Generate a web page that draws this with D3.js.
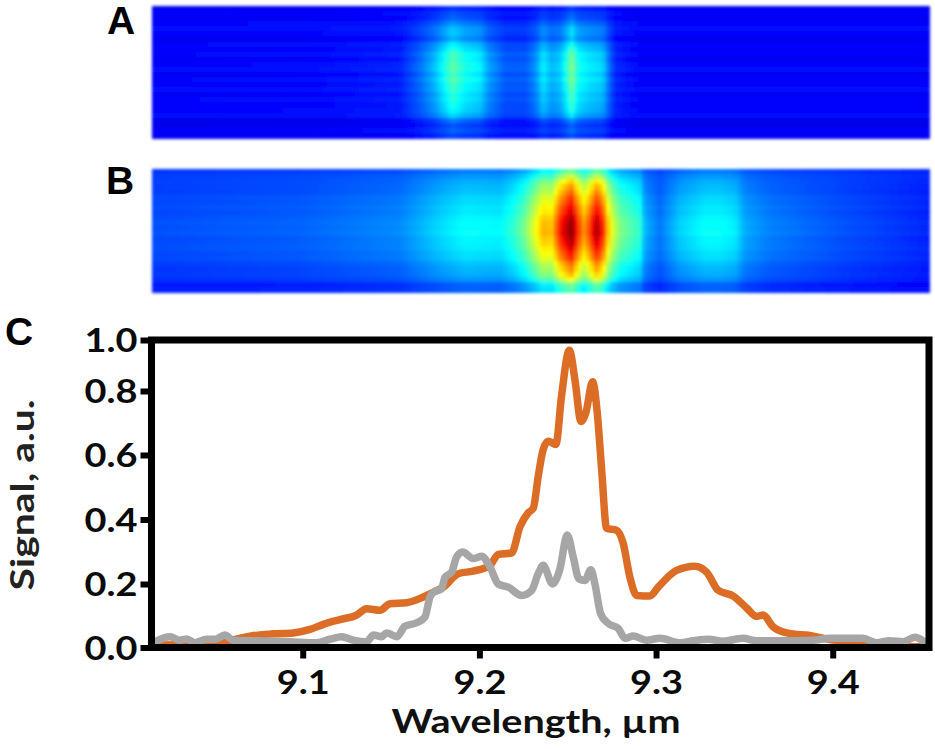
<!DOCTYPE html>
<html><head><meta charset="utf-8">
<script src="https://cdn.jsdelivr.net/npm/d3@7"></script>
<style>html,body{margin:0;background:#fff}svg{display:block}</style>
</head><body><svg id="c" width="935" height="749"></svg>
<script>
// Curves
const orangeWave=[9.0164,9.0456,9.0607,9.0701,9.0834,9.0947,9.1041,9.1117,9.1211,9.1305,9.1362,9.1437,9.1494,9.1588,9.1682,9.1739,9.1796,9.188,9.1965,9.206,9.2107,9.2182,9.223,9.2277,9.2305,9.2333,9.2361,9.239,9.2433,9.2465,9.2509,9.2541,9.2575,9.2603,9.2641,9.2667,9.2692,9.272,9.2776,9.2814,9.2852,9.289,9.2965,9.3012,9.3116,9.322,9.3286,9.3352,9.3437,9.3512,9.3569,9.3606,9.3663,9.3739,9.389,9.3984,9.4172,9.4361,9.4512];
const orangeSignal=[.008,.01,.024,.036,.043,.046,.057,.073,.088,.102,.122,.117,.138,.141,.159,.174,.19,.232,.24,.258,.292,.296,.378,.421,.435,.534,.617,.643,.633,.784,.96,.843,.705,.733,.836,.733,.555,.373,.367,.326,.221,.164,.162,.19,.242,.255,.237,.18,.162,.125,.098,.102,.065,.046,.036,.025,.018,.002,.003];
const greyWave=[9.0173,9.0249,9.0305,9.0343,9.039,9.0456,9.0503,9.056,9.0607,9.0739,9.0928,9.1079,9.1154,9.122,9.1286,9.1362,9.14,9.1447,9.1475,9.1532,9.1579,9.1645,9.1692,9.172,9.1739,9.1786,9.1805,9.1843,9.1871,9.1905,9.1965,9.2013,9.206,9.2107,9.2163,9.2239,9.2296,9.2333,9.2361,9.2414,9.2456,9.2497,9.2531,9.2563,9.2597,9.2631,9.2654,9.2686,9.2729,9.2786,9.2824,9.2871,9.2946,9.3022,9.3135,9.321,9.3295,9.338,9.3493,9.3569,9.37,9.389,9.3984,9.4078,9.4172,9.4248,9.4323,9.4399,9.4465,9.4512];
const greySignal=[.021,.034,.023,.027,.015,.026,.026,.039,.023,.021,.018,.015,.026,.034,.023,.018,.039,.034,.046,.034,.067,.078,.096,.159,.174,.185,.221,.237,.284,.299,.279,.286,.253,.2,.19,.164,.18,.232,.258,.2,.247,.352,.284,.216,.211,.244,.2,.107,.076,.06,.029,.036,.023,.029,.015,.021,.026,.02,.029,.021,.021,.023,.029,.029,.029,.015,.021,.018,.032,.021];
const xTickLabels=[9.1,9.2,9.3,9.4];
const yTickLabels=[0,.2,.4,.6,.8,1];

// Heat map A: intensity across the wavelength axis, and its row gain / row stripes
const heatAWave=[9.0147,9.0985,9.1551,9.1664,9.1749,9.1817,9.1845,9.1919,9.2003,9.2049,9.2145,9.2258,9.2315,9.236,9.2411,9.2456,9.2492,9.2524,9.2558,9.2626,9.27,9.2728,9.2767,9.2909,9.4545];
const heatAVal=[.12,.125,.15,.23,.31,.41,.46,.39,.36,.28,.21,.21,.26,.36,.3,.32,.39,.5,.39,.35,.33,.25,.16,.12,.12];
const heatARowGain=[.2,.25,.35,.42,.55,.6,.58,.72,.85,.95,1,1,1,.98,1,.95,.9,.88,.85,.82,.75,.62,.45,.3,.3,.25];
const heatARowStripe=[-.015,.005,-.01,.01,.015,.005,-.012,.01,0,.01,-.008,.008,.012,-.008,.01,0,.012,-.005,.01,0,.008,.012,-.02,-.015,.005,-.01];
// Heat map B
const heatBWave=[9.0147,9.0985,9.1551,9.1777,9.1919,9.2117,9.2201,9.2258,9.2349,9.2371,9.2411,9.2456,9.2524,9.2558,9.2598,9.2666,9.27,9.2739,9.2796,9.2864,9.2909,9.2937,9.3022,9.3135,9.3277,9.3362,9.3447,9.3503,9.3645,9.4098,9.4545];
const heatBVal=[.2,.22,.26,.34,.38,.37,.43,.5,.68,.7,.68,.85,1,.84,.72,.96,.86,.63,.5,.45,.42,.3,.24,.33,.38,.38,.36,.29,.25,.2,.16];
const heatBRowGain=[.4,.5,.62,.7,.76,.8,.84,.88,.92,.96,.98,1,1,.98,.95,.9,.86,.82,.76,.72,.66,.58,.45,.4];
const heatBRowStripe=[.005,.01,.005,0,-.005,.005,0,.005,-.005,0,.005,0,.005,-.005,0,.005,0,.005,-.005,-.01,-.005,-.01,-.03,-.02];
const panelLetters=["A","B","C"];

const svg=d3.select("#c");
const defs=svg.append("defs");
defs.append("filter").attr("id","soft").attr("x","-2%").attr("y","-5%").attr("width","104%").attr("height","110%")
  .append("feGaussianBlur").attr("stdDeviation",1.6);
defs.append("filter").attr("id","lineSoft").append("feGaussianBlur").attr("stdDeviation",.55);

const x=d3.scaleLinear().domain([9.0144,9.4545]).range([151.5,929]);
const y=d3.scaleLinear().domain(yTickLabels).range([647.5,584,519.5,455,391,340]);
const jet=d3.scaleLinear().domain([0,.125,.375,.625,.875,1]).range(["#00008f","#0000ff","#00ffff","#ffff00","#ff0000","#800000"]).clamp(true);

function heat(top,bottom,waves,vals,gain,stripe,base){
  const profile=d3.scaleLinear().domain(waves).range(vals);
  const cols=d3.range(195);
  const cx=d3.scaleBand().domain(cols).range([152,929]);
  const ry=d3.scaleBand().domain(d3.range(gain.length)).range([top,bottom]);
  const cells=gain.flatMap((g,i)=>cols.map(j=>{
    const w=x.invert(cx(j)+cx.bandwidth()/2);
    return {i,j,v:base+stripe[i]+(profile(w)-base)*g};
  }));
  svg.append("g").attr("filter","url(#soft)").attr("shape-rendering","crispEdges")
    .selectAll("rect").data(cells).join("rect")
    .attr("x",d=>cx(d.j)).attr("y",d=>ry(d.i))
    .attr("width",cx.bandwidth()+.5).attr("height",ry.bandwidth()+.5)
    .attr("fill",d=>jet(d.v));
}
heat(6,138,heatAWave,heatAVal,heatARowGain,heatARowStripe,.12);
heat(169,292,heatBWave,heatBVal,heatBRowGain,heatBRowStripe,.15);

// letters
svg.append("g").selectAll("text").data(panelLetters).join("text")
  .attr("x",(d,i)=>[107,106,5][i]).attr("y",(d,i)=>[34,194,345][i])
  .attr("font-family","'Liberation Sans'").attr("font-weight",700).attr("font-size",39).attr("fill","#000").text(d=>d);

// curves
const line=d3.line().x(d=>x(d[0])).y(d=>y(d[1])).curve(d3.curveMonotoneX);
const lines=svg.append("g").attr("filter","url(#lineSoft)").attr("fill","none").attr("stroke-width",7.5).attr("stroke-linejoin","round").attr("stroke-linecap","round");
lines.append("path").attr("d",line(d3.zip(orangeWave,orangeSignal))).attr("stroke","#dc6d25");
lines.append("path").attr("d",line(d3.zip(greyWave,greySignal))).attr("stroke","#a6a6a6");

// axes
const font="Lato";
const xAxis=svg.append("g").attr("transform","translate(0,647.5)")
  .call(d3.axisBottom(x).tickValues(xTickLabels).tickSize(11).tickSizeOuter(0).tickFormat(d3.format(".1f")));
const yAxis=svg.append("g").attr("transform","translate(151.5,0)")
  .call(d3.axisLeft(y).tickValues(yTickLabels).tickSize(11).tickSizeOuter(0).tickFormat(d3.format(".1f")));
[xAxis,yAxis].forEach(a=>{
  a.select(".domain").remove();
  a.selectAll("line").attr("stroke","#000").attr("stroke-width",6);
  a.selectAll("text").attr("font-family",font).attr("font-weight",700).attr("font-size",32).attr("fill","#0b0b0b")
    .attr("textLength",53).attr("lengthAdjust","spacingAndGlyphs");
});
xAxis.selectAll("text").attr("y",46).attr("dy",0);
yAxis.selectAll("text").attr("x",-14).attr("dy","0.37em");
svg.append("rect").attr("x",x.range()[0]).attr("y",340).attr("width",x.range()[1]-x.range()[0]).attr("height",307.5)
  .attr("fill","none").attr("stroke","#000").attr("stroke-width",7);

// titles
svg.append("text").attr("x",536).attr("y",733).attr("text-anchor","middle")
  .attr("font-family",font).attr("font-weight",700).attr("font-size",33).attr("fill","#111")
  .attr("textLength",289).attr("lengthAdjust","spacingAndGlyphs").text("Wavelength, µm");
svg.append("text").attr("transform","translate(34,495) rotate(-90)").attr("text-anchor","middle")
  .attr("font-family",font).attr("font-weight",700).attr("font-size",33).attr("fill","#222")
  .attr("textLength",191).attr("lengthAdjust","spacingAndGlyphs").text("Signal, a.u.");
</script></body></html>
